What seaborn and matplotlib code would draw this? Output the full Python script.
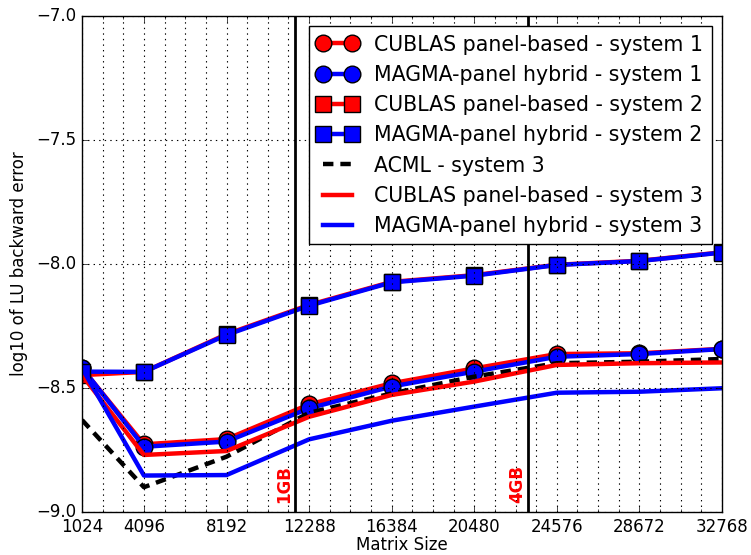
import matplotlib
matplotlib.use("Agg")
import matplotlib.pyplot as plt
from matplotlib.ticker import MultipleLocator, FixedLocator
import seaborn as sns
import pandas as pd

# ---- data ----
matrix_sizes = [1024, 4096, 8192, 12288, 16384, 20480, 24576, 28672, 32768]
cublas_sys1 = [-8.420, -8.727, -8.706, -8.566, -8.481, -8.421, -8.363, -8.360, -8.342]
magma_sys1 = [-8.418, -8.737, -8.716, -8.582, -8.494, -8.434, -8.374, -8.363, -8.343]
cublas_sys2 = [-8.448, -8.435, -8.283, -8.165, -8.072, -8.045, -8.003, -7.987, -7.953]
magma_sys2 = [-8.434, -8.435, -8.286, -8.168, -8.074, -8.047, -8.004, -7.988, -7.954]
acml_sys3 = [-8.629, -8.900, -8.777, -8.600, -8.522, -8.454, -8.400, -8.394, -8.383]
cublas_sys3 = [-8.448, -8.770, -8.754, -8.616, -8.528, -8.474, -8.407, -8.400, -8.397]
magma_sys3 = [-8.420, -8.853, -8.851, -8.707, -8.632, -8.575, -8.519, -8.515, -8.501]

memory_marks = [11585, 23170]
memory_labels = ["1GB", "4GB"]
x_ticks = [1024, 4096, 8192, 12288, 16384, 20480, 24576, 28672, 32768]
y_ticks = [-9.0, -8.5, -8.0, -7.5, -7.0]

plt.style.use("classic")
plt.rcParams["figure.facecolor"] = "white"
plt.rcParams["savefig.facecolor"] = "white"
plt.rcParams["font.family"] = ["DejaVu Sans"]
plt.rcParams["lines.scale_dashes"] = False
plt.rcParams["lines.dashed_pattern"] = [7.5, 5.0]

fig = plt.figure(figsize=(7.51, 5.55), dpi=100)
ax = fig.add_axes([82 / 751, 1 - 512 / 555, 640 / 751, 496 / 555])

series = [
    ("CUBLAS panel-based - system 1", cublas_sys1, "red", "o", "-"),
    ("MAGMA-panel hybrid - system 1", magma_sys1, "blue", "o", "-"),
    ("CUBLAS panel-based - system 2", cublas_sys2, "red", "s", "-"),
    ("MAGMA-panel hybrid - system 2", magma_sys2, "blue", "s", "-"),
    ("ACML - system 3", acml_sys3, "black", None, "--"),
    ("CUBLAS panel-based - system 3", cublas_sys3, "red", None, "-"),
    ("MAGMA-panel hybrid - system 3", magma_sys3, "blue", None, "-"),
]

for label, vals, color, marker, ls in series:
    df = pd.DataFrame({"size": matrix_sizes, "err": vals})
    kw = dict(color=color, lw=3.2, linestyle=ls, label=label)
    if marker is not None:
        kw.update(marker=marker, markersize=12, markeredgecolor="black", markeredgewidth=1)
    sns.lineplot(data=df, x="size", y="err", ax=ax, **kw)

for xm, lab in zip(memory_marks, memory_labels):
    ax.axvline(xm, color="black", lw=2)
    ax.text(xm - 100, -8.965, lab, rotation=90, color="red", fontweight="bold",
            fontsize=12, ha="right", va="bottom")

ax.set_xlim(1024, 32768)
ax.set_ylim(-9.0, -7.0)
ax.xaxis.set_major_locator(FixedLocator(x_ticks))
ax.xaxis.set_minor_locator(MultipleLocator(1024))
ax.yaxis.set_major_locator(FixedLocator(y_ticks))
ax.set_xticklabels([str(v) for v in x_ticks])
ax.set_yticklabels(["\u2212%.1f" % abs(v) for v in y_ticks])
ax.grid(True, which="major", axis="y", linestyle=":", color="black", lw=0.8)
ax.grid(True, which="both", axis="x", linestyle=":", color="black", lw=0.8)
ax.tick_params(labelsize=12)
ax.set_xlabel("Matrix Size", fontsize=12, labelpad=0)
ax.set_ylabel("log10 of LU backward error", fontsize=12, labelpad=6)

ax.legend(loc="upper right", numpoints=2, prop={"size": 14.8}, borderaxespad=0.5)

fig.savefig("out.png", dpi=100)
